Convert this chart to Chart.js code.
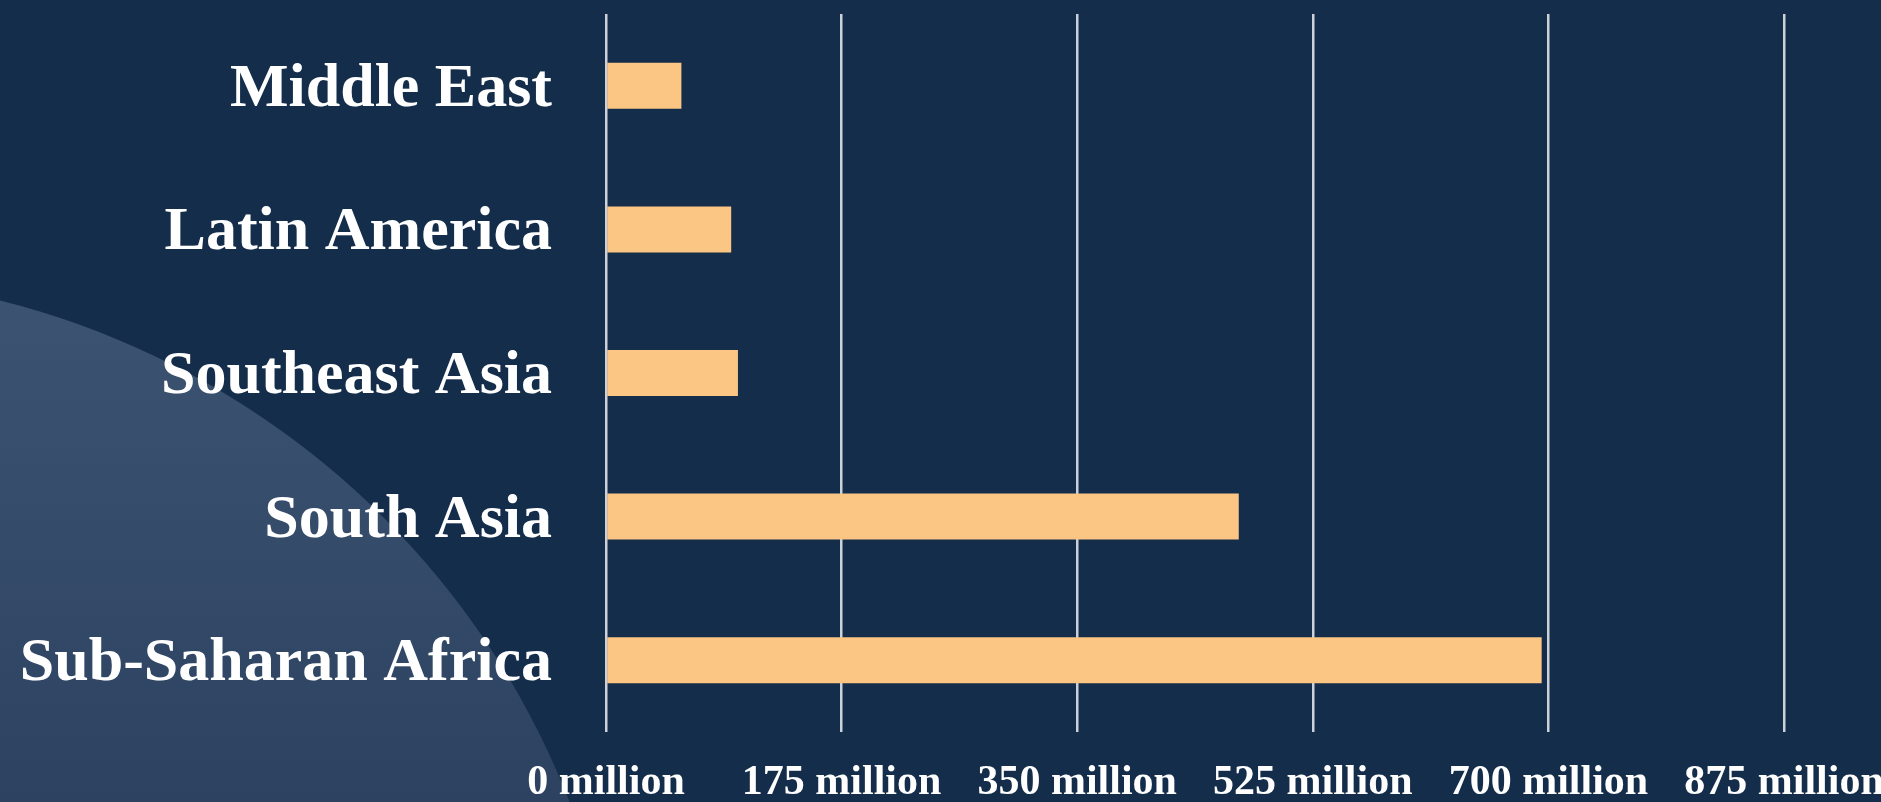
<!DOCTYPE html>
<html>
<head>
<meta charset="utf-8">
<script src="https://cdn.jsdelivr.net/npm/chart.js@4/dist/chart.umd.min.js"></script>
<style>
    html, body { margin: 0; padding: 0; background: #142d4a; }
    #wrap { width: 1881px; height: 802px; position: relative; }
</style>
</head>
<body>
<div id="wrap"><canvas id="povertyChart"></canvas></div>
<script>
const regions = ['Middle East', 'Latin America', 'Southeast Asia', 'South Asia', 'Sub-Saharan Africa'];
const people = [56, 93, 98, 470, 695];
const tickValues = [0, 175, 350, 525, 700, 875];

// lighter circle in the lower left corner
const backdrop = {
    id: 'backdrop',
    beforeDraw(chart) {
        const c = chart.ctx;
        c.save();
        c.fillStyle = '#142d4a';
        c.fillRect(0, 0, chart.width, chart.height);
        const g = c.createLinearGradient(0, 290, 0, 802);
        g.addColorStop(0, 'rgb(60, 84, 114)');
        g.addColorStop(1, 'rgb(44, 66, 96)');
        c.fillStyle = g;
        c.beginPath();
        c.arc(-200, 1102, 826, 0, Math.PI * 2);
        c.fill();
        c.restore();
    }
};

const config = {
    type: 'bar',
    data: {
        labels: regions,
        datasets: [{
            data: people,
            backgroundColor: 'rgb(251, 198, 132)',
            borderWidth: 0,
            categoryPercentage: 0.8,
            barPercentage: 0.4
        }]
    },
    options: {
        indexAxis: 'y',
        responsive: true,
        maintainAspectRatio: false,
        animation: false,
        layout: { padding: { top: 14, right: 0, bottom: 0, left: 0 } },
        plugins: {
            legend: { display: false },
            tooltip: { enabled: false }
        },
        scales: {
            x: {
                min: 0,
                max: 875,
                afterBuildTicks: (scale) => {
                    scale.ticks = tickValues.map(v => ({ value: v }));
                },
                afterFit: (scale) => {
                    scale.height = 70;
                    scale.paddingLeft = 0;
                    scale.paddingRight = 97;
                },
                grid: {
                    color: 'rgba(214, 218, 224, 0.95)',
                    lineWidth: 2.5,
                    drawTicks: false
                },
                border: { display: false },
                ticks: {
                    color: '#ffffff',
                    padding: 26,
                    maxRotation: 0,
                    font: { family: '"Liberation Serif", serif', size: 42, weight: 'bold' },
                    callback: (v) => v + ' million'
                }
            },
            y: {
                afterFit: (scale) => {
                    scale.width = 606;
                    scale.paddingTop = 0;
                    scale.paddingBottom = 0;
                },
                grid: { display: false },
                border: { display: false },
                ticks: {
                    color: '#ffffff',
                    padding: 46,
                    labelOffset: 4,
                    font: { family: '"Liberation Serif", serif', size: 62, weight: 'bold' }
                }
            }
        }
    },
    plugins: [backdrop]
};

const ctx = document.getElementById('povertyChart').getContext('2d');
new Chart(ctx, config);
</script>
</body>
</html>
